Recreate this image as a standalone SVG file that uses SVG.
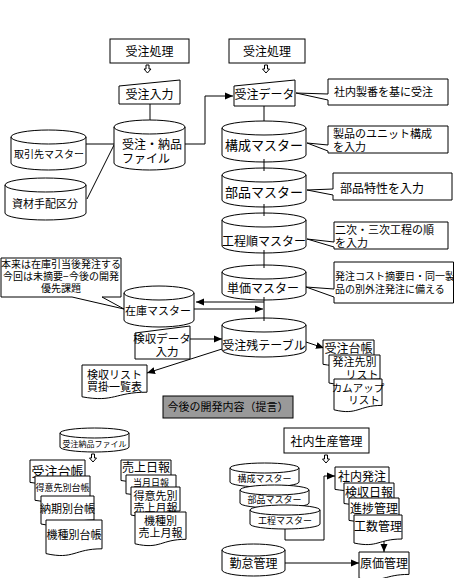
<svg xmlns="http://www.w3.org/2000/svg" width="454" height="578" viewBox="0 0 454 578">
<style>
.s{fill:#fff;stroke:#000;stroke-width:1}
.c{fill:none;stroke:#000;stroke-width:1}
.a{fill:none;stroke:#000;stroke-width:1;marker-end:url(#ah)}
text{font-family:"Liberation Sans","Noto Sans CJK JP",sans-serif;fill:#000;text-anchor:middle}
.l{text-anchor:start}
.f13{font-size:13px}.f12{font-size:12px}.f115{font-size:11.5px}.f11{font-size:11px}.f105{font-size:10.5px}.f10{font-size:10px}.f9{font-size:9px}.f8{font-size:8px}
</style>
<defs>
<marker id="ah" markerWidth="9" markerHeight="8" refX="8" refY="4" orient="auto" markerUnits="userSpaceOnUse"><path d="M0,0.5 L8,4 L0,7.5 Z" fill="#000"/></marker>
<path id="da" d="M-1.5,0 H1.5 V4 H3.5 L0,8 L-3.5,4 H-1.5 Z" fill="#fff" stroke="#000" stroke-width="1"/>
</defs>

<g id="connectors">
<line class="c" x1="150" y1="104" x2="150" y2="120"/>
<line class="c" x1="86" y1="144" x2="114" y2="144"/>
<line class="c" x1="87" y1="199" x2="114" y2="145"/>
<path class="a" d="M185,144 H205 V96 H233"/>
<line class="c" x1="264" y1="106" x2="264" y2="121"/>
<path class="a" d="M264,302 H196"/>
<path class="a" d="M194,309 H263"/>
<path class="a" d="M190,339 H222"/>
<path class="a" d="M222,349 L147,373"/>
<path class="a" d="M306,342 L324,348"/>
<path class="a" d="M285,529 V540 H324 V476 H335"/>
<path class="a" d="M384,541 V552"/>
<path class="a" d="M285,563 H359"/>
<use href="#da" x="147.5" y="65"/>
<use href="#da" x="266" y="65"/>
<use href="#da" x="93" y="454"/>
<use href="#da" x="326" y="455"/>
</g>

<g id="n-juchu-shori-1"><rect class="s" x="110" y="39" width="79" height="24"/><text class="f12" x="149.5" y="55.5">受注処理</text></g>
<g id="n-juchu-nyuryoku"><path class="s" d="M119,86 L180,80 V104 H119 Z"/><text class="f12" x="149.5" y="99">受注入力</text></g>
<g id="n-juchu-nohin-file"><path class="s" d="M114,127 A35.5,7 0 0 1 185,127 V163 A35.5,7 0 0 1 114,163 Z M114,127 A35.5,7 0 0 0 185,127"/><text class="f12 l" x="122" y="149">受注・納品</text><text class="f12 l" x="122" y="162.5">ファイル</text></g>
<g id="n-torihikisaki"><path class="s" d="M11,137 A37.5,7 0 0 1 86,137 V163 A37.5,7 0 0 1 11,163 Z M11,137 A37.5,7 0 0 0 86,137"/><text class="f10" x="49" y="158">取引先マスター</text></g>
<g id="n-shizai"><path class="s" d="M5,185 A40.5,7 0 0 1 86,185 V213 A40.5,7 0 0 1 5,213 Z M5,185 A40.5,7 0 0 0 86,185"/><text class="f11" x="45" y="208">資材手配区分</text></g>

<g id="n-juchu-shori-2"><rect class="s" x="229" y="39" width="76" height="24"/><text class="f12" x="267" y="55.5">受注処理</text></g>
<g id="n-juchu-data"><path class="s" d="M234,86 L295,80 V106 H234 Z"/><text class="f12" x="264.5" y="99">受注データ</text></g>
<g id="n-kosei"><path class="s" d="M222,128 A42,7 0 0 1 306,128 V155 A42,7 0 0 1 222,155 Z M222,128 A42,7 0 0 0 306,128"/><text class="f13" x="264" y="150">構成マスター</text></g>
<g id="n-buhin"><path class="s" d="M222,175 A42,7 0 0 1 306,175 V200 A42,7 0 0 1 222,200 Z M222,175 A42,7 0 0 0 306,175"/><text class="f13" x="264" y="197">部品マスター</text></g>
<g id="n-koteijun"><path class="s" d="M222,220 A42,7 0 0 1 306,220 V246 A42,7 0 0 1 222,246 Z M222,220 A42,7 0 0 0 306,220"/><text class="f12" x="264" y="246">工程順マスター</text></g>
<g id="n-tanka"><path class="s" d="M222,272 A42,7 0 0 1 306,272 V293 A42,7 0 0 1 222,293 Z M222,272 A42,7 0 0 0 306,272"/><text class="f12" x="263" y="293">単価マスター</text></g>
<g id="n-juchuzan"><path class="s" d="M222,325 A42,7 0 0 1 306,325 V350 A42,7 0 0 1 222,350 Z M222,325 A42,7 0 0 0 306,325"/><text class="f12" x="264" y="349.5">受注残テーブル</text></g>

<g id="spine">
<line class="c" x1="264" y1="159" x2="264" y2="171"/>
<line class="c" x1="264" y1="204" x2="264" y2="216"/>
<line class="c" x1="264" y1="250" x2="264" y2="268"/>
<line class="c" x1="264" y1="297" x2="264" y2="321"/>
</g>

<g id="c-shanai-seiban"><path class="s" d="M328,79 H448 V105 H328 V100 L296,93 L328,94 Z"/><text class="f11 l" x="334" y="96">社内製番を基に受注</text></g>
<g id="c-unit"><path class="s" d="M328,126 H448 V153 H328 V151 L307,143 L328,145 Z"/><text class="f11 l" x="333" y="138">製品のユニット構成</text><text class="f11 l" x="333" y="150.5">を入力</text></g>
<g id="c-buhin-tokusei"><path class="s" d="M333,173 H452 V200 H333 V195 L307,190 L333,189 Z"/><text class="f12 l" x="340" y="193">部品特性を入力</text></g>
<g id="c-niji"><path class="s" d="M334,222 H448 V249 H334 V247 L307,239 L334,242 Z"/><text class="f11 l" x="335" y="234">二次・三次工程の順</text><text class="f11 l" x="335" y="246.5">を入力</text></g>
<g id="c-hatchu-cost"><path class="s" d="M334,262 H453.5 V303 H334 V297 L306,287 L334,289 Z"/><text class="f10 l" x="335" y="280">発注コスト摘要日・同一製</text><text class="f10 l" x="335" y="293">品の別外注発注に備える</text></g>

<g id="c-honrai"><path class="s" d="M1,258 H121 V297 H102 L124,309 L72,297 H1 Z"/><text class="f10" x="61" y="267.5">本来は在庫引当後発注する</text><text class="f10" x="61" y="279.5">今回は未摘要−今後の開発</text><text class="f10" x="61" y="291.5">優先課題</text></g>

<g id="n-kenshu-data"><path class="s" d="M135,333 L190,326 V359 H135 Z"/><text class="f115" x="162" y="343">検収データ</text><text class="f115" x="167" y="356">入力</text></g>
<g id="n-zaiko"><path class="s" d="M124,293 A35,7 0 0 1 194,293 V320 A35,7 0 0 1 124,320 Z M124,293 A35,7 0 0 0 194,293"/><text class="f11" x="158" y="315">在庫マスター</text></g>
<g id="n-kenshu-list"><path class="s" d="M82,365 H147 V392.2 C114.5,392.2 114.5,402.7 82,396.8 Z"/><text class="f11" x="114.5" y="378.5">検収リスト</text><text class="f11" x="114.5" y="391">買掛一覧表</text></g>

<g id="n-juchu-daicho"><path class="s" d="M323,340 H374 V360.8 C348.5,360.8 348.5,368.8 323,364.3 Z"/><text class="f12" x="348.5" y="352.5">受注台帳</text></g>
<g id="n-hatchusaki"><path class="s" d="M329,355 H380 V379 C354.5,379 354.5,388.2 329,383 Z"/><text class="f11" x="354.5" y="366">発注先別</text><text class="f11" x="362" y="378.5">リスト</text></g>
<g id="n-come-up"><path class="s" d="M334,379 H382 V405.4 C358,405.4 358,415.6 334,409.8 Z"/><text class="f105" x="358" y="391.5">カムアップ</text><text class="f105" x="364" y="404">リスト</text></g>

<g id="n-teigen"><rect x="163" y="396" width="130" height="22" fill="#999" stroke="#000" stroke-width="1"/><text class="f11" x="228" y="411">今後の開発内容（提言）</text></g>

<g id="n-jn-file"><path class="s" d="M60,433 A34.5,5 0 0 1 129,433 V447 A34.5,5 0 0 1 60,447 Z M60,433 A34.5,5 0 0 0 129,433"/><text class="f8" x="94.5" y="447">受注納品ファイル</text></g>
<g id="n-jd2"><path class="s" d="M30,460 H85 V479.2 C57.5,479.2 57.5,486.6 30,482.4 Z"/><text class="f13" x="57.5" y="475.5">受注台帳</text></g>
<g id="n-tokuisaki-daicho"><path class="s" d="M35,476 H90 V496.8 C62.5,496.8 62.5,504.8 35,500.3 Z"/><text class="f9" x="62.5" y="490.5">得意先別台帳</text></g>
<g id="n-noki-daicho"><path class="s" d="M41,496 H94 V520 C67.5,520 67.5,529.2 41,524 Z"/><text class="f11" x="67.5" y="513">納期別台帳</text></g>
<g id="n-kishu-daicho"><path class="s" d="M46,520 H102 V548.8 C74,548.8 74,559.9 46,553.6 Z"/><text class="f11" x="74" y="539">機種別台帳</text></g>
<g id="n-uriage-nippo"><path class="s" d="M121,460 H171 V477.6 C146,477.6 146,484.4 121,480.5 Z"/><text class="f12" x="146" y="472">売上日報</text></g>
<g id="n-tougetsu"><path class="s" d="M126,475 H176 V491 C151,491 151,497.2 126,493.7 Z"/><text class="f9" x="151" y="486">当月日報</text></g>
<g id="n-tokuisaki-geppo"><path class="s" d="M131,487 H180 V511 C155.5,511 155.5,520.2 131,515 Z"/><text class="f11" x="155.5" y="499.5">得意先別</text><text class="f11" x="155.5" y="511.5">売上月報</text></g>
<g id="n-kishu-geppo"><path class="s" d="M135,512 H186 V539.3 C160.5,539.3 160.5,549.7 135,543.8 Z"/><text class="f11" x="160.5" y="524.5">機種別</text><text class="f11" x="160.5" y="537">売上月報</text></g>

<g id="n-shanai-seisan"><rect class="s" x="284" y="428" width="85" height="25"/><text class="f12" x="326.5" y="446">社内生産管理</text></g>
<g id="n-kosei2"><path class="s" d="M230,468 A34.5,5 0 0 1 299,468 V482 A34.5,5 0 0 1 230,482 Z M230,468 A34.5,5 0 0 0 299,468"/><text class="f9" x="264.5" y="482">構成マスター</text></g>
<g id="n-buhin2"><path class="s" d="M240,490 A34.5,5 0 0 1 309,490 V503 A34.5,5 0 0 1 240,503 Z M240,490 A34.5,5 0 0 0 309,490"/><text class="f9" x="274.5" y="502.5">部品マスター</text></g>
<g id="n-kotei2"><path class="s" d="M250,510 A35,5 0 0 1 320,510 V524 A35,5 0 0 1 250,524 Z M250,510 A35,5 0 0 0 320,510"/><text class="f9" x="285" y="524">工程マスター</text></g>
<g id="n-shanai-hatchu"><path class="s" d="M335,467 H389 V486.2 C362,486.2 362,493.6 335,489.4 Z"/><text class="f12" x="362" y="480.5">社内発注</text></g>
<g id="n-kenshu-nippo"><path class="s" d="M344,483 H394 V500.6 C369,500.6 369,507.4 344,503.5 Z"/><text class="f12" x="369" y="496.5">検収日報</text></g>
<g id="n-shinchoku"><path class="s" d="M349,498 H399 V517.2 C374,517.2 374,524.6 349,520.4 Z"/><text class="f12" x="374" y="512.5">進捗管理</text></g>
<g id="n-kosu"><path class="s" d="M354,515 H402 V539 C378,539 378,548.2 354,543 Z"/><text class="f12" x="378" y="530.5">工数管理</text></g>
<g id="n-genka"><path class="s" d="M359,552 H409 V574.4 C384,574.4 384,583 359,578.2 Z"/><text class="f12" x="384" y="567.5">原価管理</text></g>
<g id="n-kintai"><path class="s" d="M222,550 A31.5,6 0 0 1 285,550 V570 A31.5,6 0 0 1 222,570 Z M222,550 A31.5,6 0 0 0 285,550"/><text class="f12" x="253.5" y="567.5">勤怠管理</text></g>
</svg>
